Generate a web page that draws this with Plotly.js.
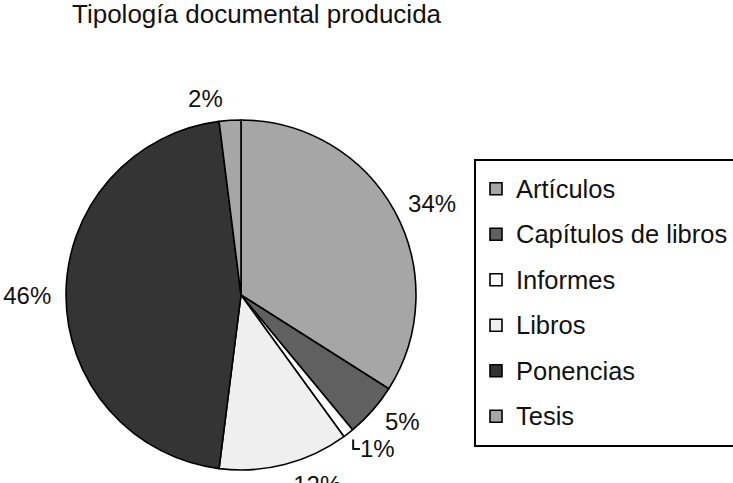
<!DOCTYPE html>
<html>
<head>
<meta charset="utf-8">
<script src="https://cdn.plot.ly/plotly-3.0.1.min.js"></script>
<style>html,body{margin:0;padding:0;background:#fff;}#chart{width:733px;height:483px;}</style>
</head>
<body>
<div id="chart"></div>
<script>
const categories = ["Artículos", "Capítulos de libros", "Informes", "Libros", "Ponencias", "Tesis"];
const percentages = [34, 5, 1, 12, 46, 2];
const sliceColors = ["#a6a6a6", "#606060", "#ffffff", "#efefef", "#343434", "#a6a6a6"];
const chartTitle = "Tipología documental producida";

const FONT = "Liberation Sans, Arial, sans-serif";
const W = 733, H = 483;

const legendLabels = categories.map(c => '<span style="font-size:25.5px;baseline-shift:4px">' + c + '</span>');

// visible pie (slices + legend)
const pieTrace = {
  type: "pie",
  labels: legendLabels,
  values: percentages,
  sort: false,
  direction: "clockwise",
  rotation: 0,
  textinfo: "none",
  marker: {colors: sliceColors, line: {color: "#000", width: 1.6}},
  domain: {x: [66 / W, 416 / W], y: [1 - 470 / H, 1 - 120 / H]},
  hoverinfo: "label+percent"
};

// same data, slightly larger transparent pie that only carries the outside percentage labels
const labelTrace = {
  type: "pie",
  labels: legendLabels,
  values: percentages,
  sort: false,
  direction: "clockwise",
  rotation: 0,
  showlegend: false,
  textinfo: "percent",
  textposition: "outside",
  outsidetextfont: {family: FONT, size: 24, color: "#111"},
  marker: {colors: categories.map(() => "rgba(0,0,0,0)"), line: {color: "rgba(0,0,0,0)", width: 0}},
  domain: {x: [58 / W, 424 / W], y: [1 - 478 / H, 1 - 112 / H]},
  hoverinfo: "skip"
};

const layout = {
  width: W, height: H,
  margin: {l: 0, r: 0, t: 0, b: 0, autoexpand: false},
  paper_bgcolor: "#fff",
  font: {family: FONT, color: "#111"},
  title: {
    text: chartTitle,
    font: {family: FONT, size: 26, color: "#111"},
    x: 72 / W, xanchor: "left", xref: "paper",
    y: 1 - 5 / H, yanchor: "top", yref: "container"
  },
  showlegend: true,
  legend: {
    x: 474 / W, xanchor: "left",
    y: 1 - 159 / H, yanchor: "top",
    bordercolor: "#000", borderwidth: 2,
    bgcolor: "#fff",
    font: {family: FONT, size: 32.7, color: "#111"}
  }
};

Plotly.newPlot("chart", [pieTrace, labelTrace], layout, {staticPlot: true, displayModeBar: false});
</script>
</body>
</html>
